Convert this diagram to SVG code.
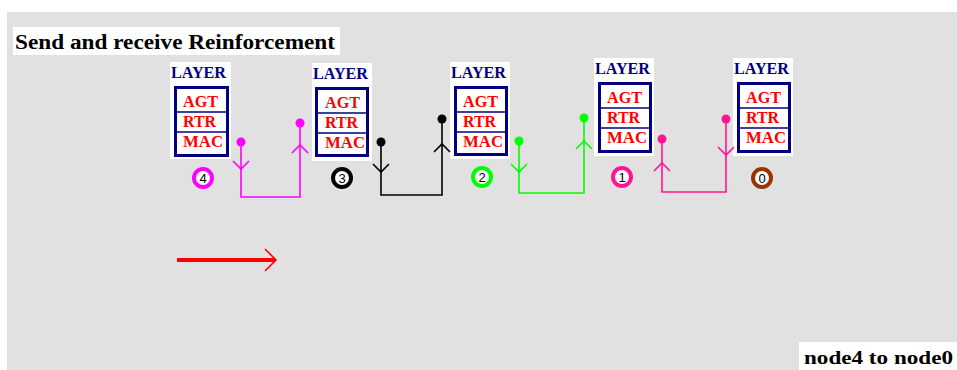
<svg xmlns="http://www.w3.org/2000/svg" width="957" height="370" viewBox="0 0 957 370">
<defs>
<style>
.bg{fill:#e1e1e1}
.wbox{fill:#ffffff}
.stack{fill:#ffffff;stroke:#000080;stroke-width:3}
.sep{stroke:#000080;stroke-width:1.5}
.layer{font-family:"Liberation Serif",serif;font-weight:bold;font-size:16px;fill:#000080}
.proto{font-family:"Liberation Serif",serif;font-weight:bold;font-size:17px;fill:#ff0000}
.num{font-family:"Liberation Sans",sans-serif;font-size:13px;fill:#000000;text-anchor:middle}
.ring{fill:#ffffff;stroke-width:4}
.title{font-family:"Liberation Serif",serif;font-weight:bold;font-size:20px;fill:#000000}
.conn{fill:none;stroke-width:1.6}
</style>
</defs>
<rect x="7" y="12" width="950" height="358" class="bg"/>
<g id="title">
<rect x="13" y="27" width="327" height="28" class="wbox"/>
<text x="15" y="49" class="title" textLength="320" lengthAdjust="spacingAndGlyphs">Send and receive Reinforcement</text>
</g>
<g id="node4">
<rect x="170" y="62" width="61" height="97" class="wbox"/>
<text x="171" y="78" class="layer" textLength="55" lengthAdjust="spacingAndGlyphs">LAYER</text>
<rect x="175.5" y="87.5" width="52" height="68" class="stack"/>
<line x1="176" y1="112" x2="227" y2="112" class="sep"/>
<line x1="176" y1="132" x2="227" y2="132" class="sep"/>
<text x="183" y="107" class="proto" textLength="35" lengthAdjust="spacingAndGlyphs">AGT</text>
<text x="183" y="127" class="proto" textLength="33" lengthAdjust="spacingAndGlyphs">RTR</text>
<text x="183" y="147" class="proto" textLength="40" lengthAdjust="spacingAndGlyphs">MAC</text>
<circle cx="203" cy="178" r="9" class="ring" stroke="#ff00ff"/>
<text x="203" y="182.5" class="num">4</text>
</g>
<g id="node3">
<rect x="312" y="63" width="60" height="98" class="wbox"/>
<text x="313" y="79" class="layer" textLength="55" lengthAdjust="spacingAndGlyphs">LAYER</text>
<rect x="316.5" y="88.5" width="51" height="67" class="stack"/>
<line x1="317" y1="113" x2="367" y2="113" class="sep"/>
<line x1="317" y1="133" x2="367" y2="133" class="sep"/>
<text x="325" y="108" class="proto" textLength="35" lengthAdjust="spacingAndGlyphs">AGT</text>
<text x="325" y="128" class="proto" textLength="33" lengthAdjust="spacingAndGlyphs">RTR</text>
<text x="325" y="148" class="proto" textLength="40" lengthAdjust="spacingAndGlyphs">MAC</text>
<circle cx="342" cy="178" r="9" class="ring" stroke="#000000"/>
<text x="342" y="182.5" class="num">3</text>
</g>
<g id="node2">
<rect x="450" y="62" width="60" height="97" class="wbox"/>
<text x="451" y="78" class="layer" textLength="55" lengthAdjust="spacingAndGlyphs">LAYER</text>
<rect x="455.5" y="87.5" width="51" height="67" class="stack"/>
<line x1="456" y1="112" x2="506" y2="112" class="sep"/>
<line x1="456" y1="132" x2="506" y2="132" class="sep"/>
<text x="463" y="107" class="proto" textLength="35" lengthAdjust="spacingAndGlyphs">AGT</text>
<text x="463" y="127" class="proto" textLength="33" lengthAdjust="spacingAndGlyphs">RTR</text>
<text x="463" y="147" class="proto" textLength="40" lengthAdjust="spacingAndGlyphs">MAC</text>
<circle cx="482" cy="177" r="9" class="ring" stroke="#00ff00"/>
<text x="482" y="181.5" class="num">2</text>
</g>
<g id="node1">
<rect x="594" y="58" width="60" height="98" class="wbox"/>
<text x="595" y="74" class="layer" textLength="55" lengthAdjust="spacingAndGlyphs">LAYER</text>
<rect x="599.5" y="83.5" width="51" height="68" class="stack"/>
<line x1="600" y1="108" x2="650" y2="108" class="sep"/>
<line x1="600" y1="128" x2="650" y2="128" class="sep"/>
<text x="607" y="103" class="proto" textLength="35" lengthAdjust="spacingAndGlyphs">AGT</text>
<text x="607" y="123" class="proto" textLength="33" lengthAdjust="spacingAndGlyphs">RTR</text>
<text x="607" y="143" class="proto" textLength="40" lengthAdjust="spacingAndGlyphs">MAC</text>
<circle cx="622" cy="177" r="9" class="ring" stroke="#ff1493"/>
<text x="622" y="181.5" class="num">1</text>
</g>
<g id="node0">
<rect x="733" y="58" width="60" height="98" class="wbox"/>
<text x="734" y="74" class="layer" textLength="55" lengthAdjust="spacingAndGlyphs">LAYER</text>
<rect x="738.5" y="83.5" width="51" height="68" class="stack"/>
<line x1="739" y1="108" x2="789" y2="108" class="sep"/>
<line x1="739" y1="128" x2="789" y2="128" class="sep"/>
<text x="746" y="103" class="proto" textLength="35" lengthAdjust="spacingAndGlyphs">AGT</text>
<text x="746" y="123" class="proto" textLength="33" lengthAdjust="spacingAndGlyphs">RTR</text>
<text x="746" y="143" class="proto" textLength="40" lengthAdjust="spacingAndGlyphs">MAC</text>
<circle cx="762" cy="178" r="9" class="ring" stroke="#993300"/>
<text x="762" y="182.5" class="num">0</text>
</g>
<g id="connectors">
<g stroke="#ff00ff" fill="#ff00ff">
<path class="conn" d="M241,142 V197 H300 V123"/>
<path class="conn" d="M233,161 L241,169 L249,161 M292,153 L300,145 L308,153"/>
<circle cx="241" cy="142" r="4.5" stroke="none"/>
<circle cx="300" cy="123" r="4.5" stroke="none"/>
</g>
<g stroke="#000000" fill="#000000">
<path class="conn" d="M381,142 V195 H442 V119"/>
<path class="conn" d="M373,164 L381,172 L389,164 M434,152 L442,144 L450,152"/>
<circle cx="381" cy="142" r="4.5" stroke="none"/>
<circle cx="442" cy="119" r="4.5" stroke="none"/>
</g>
<g stroke="#00ff00" fill="#00ff00">
<path class="conn" d="M519,141 V193 H584 V118"/>
<path class="conn" d="M511,164 L519,172 L527,164 M576,149 L584,141 L592,149"/>
<circle cx="519" cy="141" r="4.5" stroke="none"/>
<circle cx="584" cy="118" r="4.5" stroke="none"/>
</g>
<g stroke="#ff1493" fill="#ff1493">
<path class="conn" d="M662,139 V192 H726 V119"/>
<path class="conn" d="M654,171 L662,163 L670,171 M718,147 L726,155 L734,147"/>
<circle cx="662" cy="139" r="4.5" stroke="none"/>
<circle cx="726" cy="119" r="4.5" stroke="none"/>
</g>
<g id="direction" stroke="#ff0000">
<line x1="177" y1="260" x2="275" y2="260" stroke-width="4"/>
<path d="M265,249 L276,260 L265,271" fill="none" stroke-width="1.6"/>
</g>
</g>
<g id="caption">
<rect x="799" y="342" width="158" height="28" class="wbox"/>
<text x="804" y="364" class="title" style="font-size:19px" textLength="149" lengthAdjust="spacingAndGlyphs">node4 to node0</text>
</g>
</svg>
